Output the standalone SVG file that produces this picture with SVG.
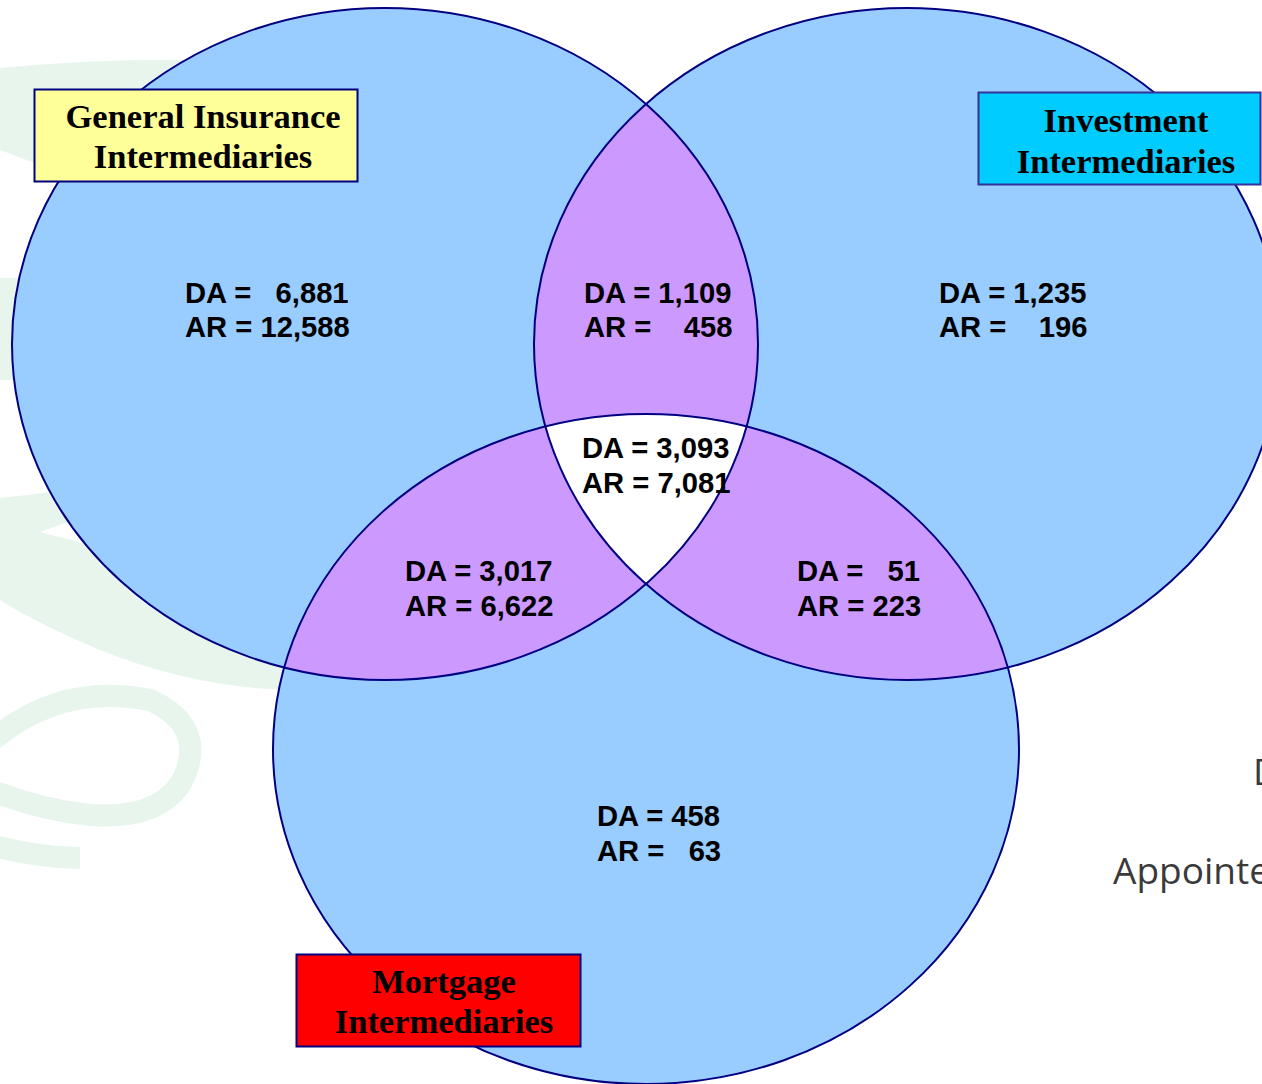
<svg xmlns="http://www.w3.org/2000/svg" width="1262" height="1084" viewBox="0 0 1262 1084">
<style>
.bg{fill:#e7f5ed;stroke:none}
.blue{fill:#99ccff}
.purple{fill:#cc99ff}
.outline{fill:none;stroke:#000080;stroke-width:2}
.box{stroke-width:2}
.ttl{font-family:"Liberation Serif","Times New Roman",serif;font-weight:bold;font-size:34.5px;fill:#000;text-anchor:middle}
.num{font-family:"Liberation Sans",Arial,sans-serif;font-weight:bold;font-size:29.2px;fill:#000;white-space:pre}
.side{font-family:"Open Sans","DejaVu Sans",sans-serif;font-size:37px;fill:#3a3a3a}
</style>
<defs>
<clipPath id="c1"><ellipse cx="385" cy="344" rx="373" ry="336"/></clipPath>
<clipPath id="c2"><ellipse cx="907" cy="344" rx="373" ry="336"/></clipPath>
<clipPath id="c3"><ellipse cx="646" cy="749" rx="373" ry="335"/></clipPath>
</defs>
<rect width="1262" height="1084" fill="#ffffff"/>
<g id="background">
<path class="bg" d="M0,68 Q100,58 220,60 L220,220 L40,165 L0,150 Z"/>
<path class="bg" d="M0,278 L30,278 L30,380 L0,380 Z"/>
<path class="bg" d="M0,498 Q60,492 120,480 L300,560 L300,690 Q200,690 100,650 Q40,625 0,600 Z"/>
<path fill="#ffffff" d="M40,532 L95,512 L270,592 Z"/>
<path fill="none" stroke="#e7f5ed" stroke-width="22" d="M-10,742 Q60,682 150,700 Q205,725 185,775 Q165,820 90,815 Q40,810 -10,790"/>
<path fill="none" stroke="#e7f5ed" stroke-width="22" d="M-10,845 Q40,858 80,858"/>
</g>
<g id="circles">
<ellipse class="blue" cx="385" cy="344" rx="373" ry="336"/>
<ellipse class="blue" cx="907" cy="344" rx="373" ry="336"/>
<ellipse class="blue" cx="646" cy="749" rx="373" ry="335"/>
<g clip-path="url(#c1)"><ellipse class="purple" cx="907" cy="344" rx="373" ry="336"/><ellipse class="purple" cx="646" cy="749" rx="373" ry="335"/></g>
<g clip-path="url(#c2)"><ellipse class="purple" cx="646" cy="749" rx="373" ry="335"/></g>
<g clip-path="url(#c1)"><g clip-path="url(#c2)"><ellipse fill="#ffffff" cx="646" cy="749" rx="373" ry="335"/></g></g>
<ellipse class="outline" cx="385" cy="344" rx="373" ry="336"/>
<ellipse class="outline" cx="907" cy="344" rx="373" ry="336"/>
<ellipse class="outline" cx="646" cy="749" rx="373" ry="335"/>
</g>
<g id="general-label">
<rect class="box" x="34.5" y="89.5" width="323" height="92" fill="#ffff99" stroke="#000080"/>
<text class="ttl" x="203" y="128">General Insurance</text>
<text class="ttl" x="203" y="168">Intermediaries</text>
</g>
<g id="investment-label">
<rect class="box" x="978.5" y="92.5" width="282" height="92" fill="#00ccff" stroke="#333399"/>
<text class="ttl" x="1126" y="132">Investment</text>
<text class="ttl" x="1126" y="173">Intermediaries</text>
</g>
<g id="mortgage-label">
<rect class="box" x="296.5" y="954.5" width="284" height="92" fill="#ff0000" stroke="#000080"/>
<text class="ttl" x="444" y="993">Mortgage</text>
<text class="ttl" x="444" y="1033">Intermediaries</text>
</g>
<g id="region-general">
<text class="num" x="185" y="303">DA =   6,881</text>
<text class="num" x="185" y="337">AR = 12,588</text>
</g>
<g id="region-general-investment">
<text class="num" x="584" y="303">DA = 1,109</text>
<text class="num" x="584" y="337">AR =    458</text>
</g>
<g id="region-investment">
<text class="num" x="939" y="303">DA = 1,235</text>
<text class="num" x="939" y="337">AR =    196</text>
</g>
<g id="region-all">
<text class="num" x="582" y="458">DA = 3,093</text>
<text class="num" x="582" y="493">AR = 7,081</text>
</g>
<g id="region-general-mortgage">
<text class="num" x="405" y="581">DA = 3,017</text>
<text class="num" x="405" y="616">AR = 6,622</text>
</g>
<g id="region-investment-mortgage">
<text class="num" x="797" y="581">DA =   51</text>
<text class="num" x="797" y="616">AR = 223</text>
</g>
<g id="region-mortgage">
<text class="num" x="597" y="826">DA = 458</text>
<text class="num" x="597" y="861">AR =   63</text>
</g>
<g id="side-text">
<text class="side" x="1253" y="785">D</text>
<text class="side" x="1113" y="884">Appointe</text>
</g>
</svg>
